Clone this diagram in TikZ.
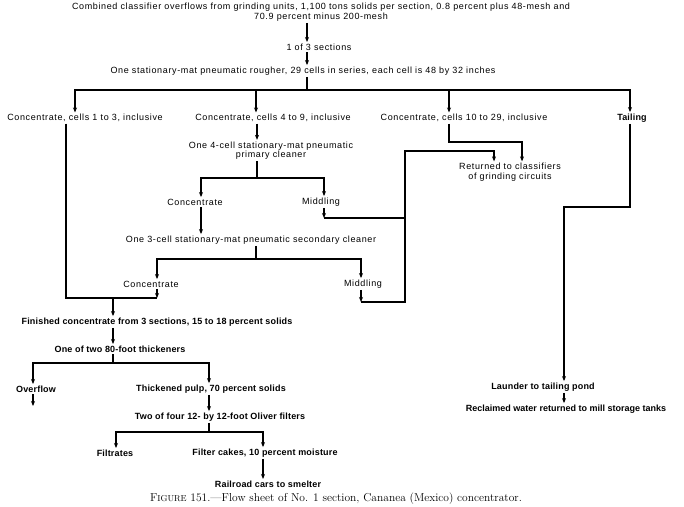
\documentclass[tikz,border=0pt]{standalone}
\usepackage{fontspec}
\setmainfont{Liberation Sans}
\newfontfamily\lblfont[LetterSpace=7]{Liberation Sans}
\newfontfamily\blfont[LetterSpace=2]{Liberation Sans}
\newfontfamily\capfont[Ligatures=TeX]{Latin Modern Roman}
\usetikzlibrary{arrows.meta}
\tikzset{
  lbl/.style={inner sep=1.5pt, anchor=center, font=\lblfont\fontsize{9}{9.5}\selectfont},
  bl/.style={lbl, font=\blfont\fontsize{9}{9.5}\selectfont\bfseries},
  ln/.style={line width=1.1pt},
  arr/.style={ln, -{Stealth[length=5pt,width=4pt]}},
}
\begin{document}
\begin{tikzpicture}[x=1pt,y=-1pt]
\useasboundingbox[fill=white] (0,0) rectangle (684,506);
% nodes
\node[lbl] (t1) at (321,7) {Combined classifier overflows from grinding units, 1,100 tons solids per section, 0.8 percent plus 48-mesh and};
\node[lbl] (t2) at (321,17) {70.9 percent minus 200-mesh};
\node[lbl] (s13) at (319,47) {1 of 3 sections};
\node[lbl] (rough) at (303,71) {One stationary-mat pneumatic rougher, 29 cells in series, each cell is 48 by 32 inches};
\node[lbl] (c13) at (85,118) {Concentrate, cells 1 to 3, inclusive};
\node[lbl] (c49) at (273,118) {Concentrate, cells 4 to 9, inclusive};
\node[lbl] (c1029) at (464,118) {Concentrate, cells 10 to 29, inclusive};
\node[bl] (tail) at (632,118) {Tailing};
\node[lbl, align=center] (pc) at (271,150.5) {One 4-cell stationary-mat pneumatic\\primary cleaner};
\node[lbl] (conc1) at (195,202) {Concentrate};
\node[lbl] (mid1) at (321,202) {Middling};
\node[lbl] (sc) at (251,240) {One 3-cell stationary-mat pneumatic secondary cleaner};
\node[lbl] (conc2) at (151,284) {Concentrate};
\node[lbl] (mid2) at (363,284) {Middling};
\node[lbl, align=center] (ret) at (510,172) {Returned to classifiers\\of grinding circuits};
\node[bl] (fin) at (157,322) {Finished concentrate from 3 sections, 15 to 18 percent solids};
\node[bl] (thick) at (120,349) {One of two 80-foot thickeners};
\node[bl] (over) at (36,389) {Overflow};
\node[bl] (pulp) at (211,389) {Thickened pulp, 70 percent solids};
\node[bl] (filt) at (220,417) {Two of four 12- by 12-foot Oliver filters};
\node[bl] (ftr) at (115,453) {Filtrates};
\node[bl] (cake) at (265,453) {Filter cakes, 10 percent moisture};
\node[bl] (rail) at (268,484) {Railroad cars to smelter};
\node[bl] (laund) at (543,387) {Launder to tailing pond};
\node[bl, font=\fontsize{9}{9.5}\selectfont\bfseries] (recl) at (566,409) {Reclaimed water returned to mill storage tanks};
\node[inner sep=0, font=\capfont\fontsize{11.5}{12}\selectfont] (cap) at (336,499) {F{\fontsize{8.6}{12}\selectfont IGURE} 151.—Flow sheet of No. 1 section, Cananea (Mexico) concentrator.};
% coordinates
\coordinate (xa) at (307,0);
\coordinate (r1) at (307,90);
\coordinate (rl) at (75,0);
\coordinate (rr) at (630,0);
\coordinate (x49) at (256,90);
\coordinate (x1029) at (449,90);
\coordinate (j1) at (66,298);
\coordinate (j2) at (157,298);
\coordinate (jx) at (113,298);
\coordinate (x257) at (257,0);
\coordinate (p1) at (257,178);
\coordinate (xc1) at (201,0);
\coordinate (xm1) at (324,0);
\coordinate (m1) at (324,218);
\coordinate (v1) at (405,218);
\coordinate (s1) at (256,259);
\coordinate (xm2) at (361,0);
\coordinate (m2) at (361,302);
\coordinate (v2) at (405,302);
\coordinate (v3) at (405,151);
\coordinate (r2) at (494,151);
\coordinate (q1) at (449,142);
\coordinate (q2) at (522,142);
\coordinate (tt1) at (630,207);
\coordinate (tt2) at (564,207);
\coordinate (h1) at (113,363);
\coordinate (oe) at (33,406);
\coordinate (xp) at (209,0);
\coordinate (f1) at (209,432);
\coordinate (xf) at (116,0);
\coordinate (xk) at (263,0);
% connectors
\draw[arr] (t2.south -| xa) -- (s13.north -| xa);
\draw[arr] (s13.south -| xa) -- (rough.north -| xa);
\draw[ln] (rough.south -| xa) -- (r1);
\draw[arr] (r1) -| (c13.north -| rl);
\draw[arr] (r1) -| (tail.north -| rr);
\draw[arr] (x49) -- (c49.north -| x49);
\draw[arr] (x1029) -- (c1029.north -| x1029);
\draw[ln] (c13.south -| j1) -- (j1) -- (j2);
\draw[arr] (conc2.south -| j2) -- (j2);
\draw[arr] (jx) -- (fin.north -| jx);
\draw[arr] (c49.south -| x257) -- (pc.north -| x257);
\draw[ln] (pc.south -| p1) -- (p1);
\draw[arr] (p1) -| (conc1.north -| xc1);
\draw[arr] (p1) -| (mid1.north -| xm1);
\draw[arr] (mid1.south -| m1) -- (m1);
\draw[ln] (m1) -- (v1);
\draw[arr] (conc1.south -| xc1) -- (sc.north -| xc1);
\draw[ln] (sc.south -| s1) -- (s1);
\draw[arr] (s1) -| (conc2.north -| j2);
\draw[arr] (s1) -| (mid2.north -| xm2);
\draw[arr] (mid2.south -| m2) -- (m2);
\draw[arr] (m2) -- (v2) -- (v3) -- (r2) -- (ret.north -| r2);
\draw[arr] (c1029.south -| q1) -- (q1) -- (q2) -- (ret.north -| q2);
\draw[arr] (tail.south -| tt1) -- (tt1) -- (tt2) -- (laund.north -| tt2);
\draw[arr] (laund.south -| tt2) -- (recl.north -| tt2);
\draw[arr] (fin.south -| jx) -- (thick.north -| jx);
\draw[ln] (thick.south -| h1) -- (h1);
\draw[arr] (h1) -| (over.north -| oe);
\draw[arr] (h1) -| (pulp.north -| xp);
\draw[arr] (over.south -| oe) -- (oe);
\draw[arr] (pulp.south -| xp) -- (filt.north -| xp);
\draw[ln] (filt.south -| f1) -- (f1);
\draw[arr] (f1) -| (ftr.north -| xf);
\draw[arr] (f1) -| (cake.north -| xk);
\draw[arr] (cake.south -| xk) -- (rail.north -| xk);
\end{tikzpicture}
\end{document}
